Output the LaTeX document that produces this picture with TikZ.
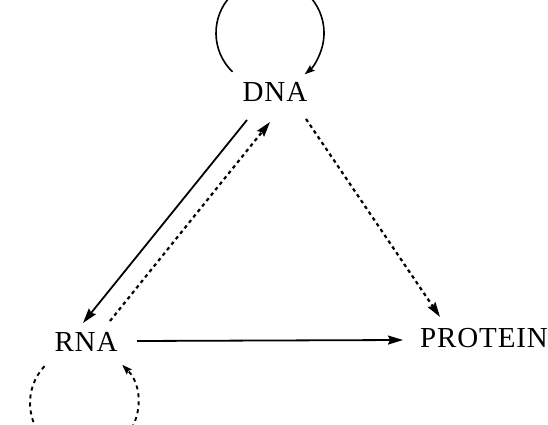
\documentclass[tikz,border=0pt]{standalone}
\usepackage{fontspec}
\setmainfont{Liberation Serif}
\usetikzlibrary{arrows.meta}
\begin{document}
\begin{tikzpicture}[x=1pt,y=1pt,
  lbl/.style={anchor=base,inner sep=0pt,font=\fontsize{29}{31}\selectfont\addfontfeature{LetterSpace=3}},
  solidarrow/.style={line width=1.8pt,-{Stealth[length=15pt,width=9pt,inset=2pt]}},
  dasharrow/.style={line width=2.2pt,dash pattern=on 3.5pt off 3.5pt,-{Stealth[length=15pt,width=9pt,inset=2pt]}},
  loopsolid/.style={line width=1.6pt,-{Stealth[length=10pt,width=7pt,inset=1.5pt]}},
  loopdash/.style={line width=1.9pt,dash pattern=on 4pt off 4pt,-{Stealth[length=10pt,width=7pt,inset=1.5pt]}}]
\useasboundingbox (0,0) rectangle (548,425);
\clip (0,0) rectangle (548,425);
\node[lbl] (dna) at (275,323) {DNA};
\node[lbl] (rna) at (86,73) {RNA};
\node[lbl] (prot) at (484,77) {PROTEIN};
% connector ends
\coordinate (a1) at (247,305); \coordinate (a2) at (83,102);
\coordinate (b1) at (110,104); \coordinate (b2) at (270,303);
\coordinate (c1) at (306,306); \coordinate (c2) at (440,108);
\coordinate (d1) at (137,84); \coordinate (d2) at (403,85);
\draw[solidarrow] (a1) -- (a2);
\draw[dasharrow] (b1) -- (b2);
\draw[dasharrow] (c1) -- (c2);
\draw[solidarrow] (d1) -- (d2);
% loops
\draw[loopsolid] (270,392) ++(226:54) arc[start angle=226,end angle=-50,radius=54];
\draw[loopdash] (84,22) ++(137:54) arc[start angle=137,end angle=405,radius=54];
\end{tikzpicture}
\end{document}
